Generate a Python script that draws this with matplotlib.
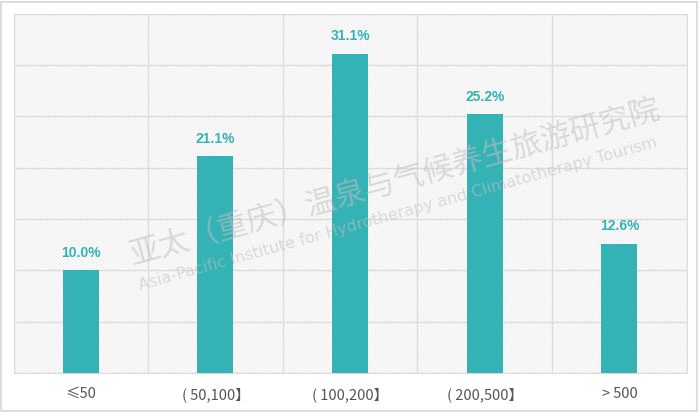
import matplotlib.pyplot as plt
from matplotlib.patches import Rectangle

plt.rcParams['font.family'] = ['DejaVu Sans', 'Noto Sans CJK SC']
plt.rcParams['hatch.linewidth'] = 0.5

categories = ["≤50", "( 50,100】", "( 100,200】", "( 200,500】", "> 500"]
values = [10.0, 21.1, 31.1, 25.2, 12.6]
labels = ["10.0%", "21.1%", "31.1%", "25.2%", "12.6%"]

teal = "#35b2b5"
grid = "#dcdcdc"

fig = plt.figure(figsize=(7, 4.12), dpi=100)
ax = fig.add_axes([13.5 / 700, 1 - 373 / 412, 673.2 / 700, 359.5 / 412])

# hatched background
ax.add_patch(Rectangle((0, 0), 1, 1, transform=ax.transAxes, facecolor="white",
                       edgecolor="#e4e4e4", hatch="\\" * 10, linewidth=0, zorder=0))

x = range(len(categories))
ax.bar(x, values, width=0.267, color=teal, zorder=3)
for xi, v, lab in zip(x, values, labels):
    ax.text(xi, v + 1.0, lab, ha="center", va="bottom", color=teal,
            fontsize=10, fontweight="bold", family="Liberation Sans", zorder=4)

ax.set_xlim(-0.5, 4.5)
ax.set_ylim(0, 35)
ax.set_yticks([0, 5, 10, 15, 20, 25, 30, 35])
ax.set_xticks([-0.5, 0.5, 1.5, 2.5, 3.5, 4.5], minor=False)
ax.set_xticks(list(x), minor=True)
ax.set_xticklabels([], minor=False)
ax.set_xticklabels(categories, minor=True, family=['Noto Sans CJK SC', 'DejaVu Sans'],
                   fontsize=10.5, color="#555555")
ax.set_yticklabels([])
ax.tick_params(which="both", length=0)
ax.tick_params(axis="x", which="minor", pad=10)
ax.grid(True, which="major", color=grid, linewidth=1, zorder=1)
for s in ax.spines.values():
    s.set_color(grid)
ax.set_axisbelow(True)

# watermark
fig.text(0.19, 0.36, "亚太（重庆）温泉与气候养生旅游研究院", rotation=15.5,
         fontsize=22, color="#c0c0c0", alpha=0.55, family="Noto Sans CJK SC",
         fontweight="light", rotation_mode="anchor")
fig.text(0.2, 0.295, "Asia-Pacific Institute for Hydrotherapy and Climatotherapy Tourism",
         rotation=15.5, fontsize=11.5, color="#c0c0c0", alpha=0.55,
         rotation_mode="anchor")

# outer frame
fig.patches.append(Rectangle((0.002, 0.003), 0.994, 0.993, transform=fig.transFigure,
                             fill=False, edgecolor="#dddddd", linewidth=1.5))

fig.savefig("out.png", dpi=100)
